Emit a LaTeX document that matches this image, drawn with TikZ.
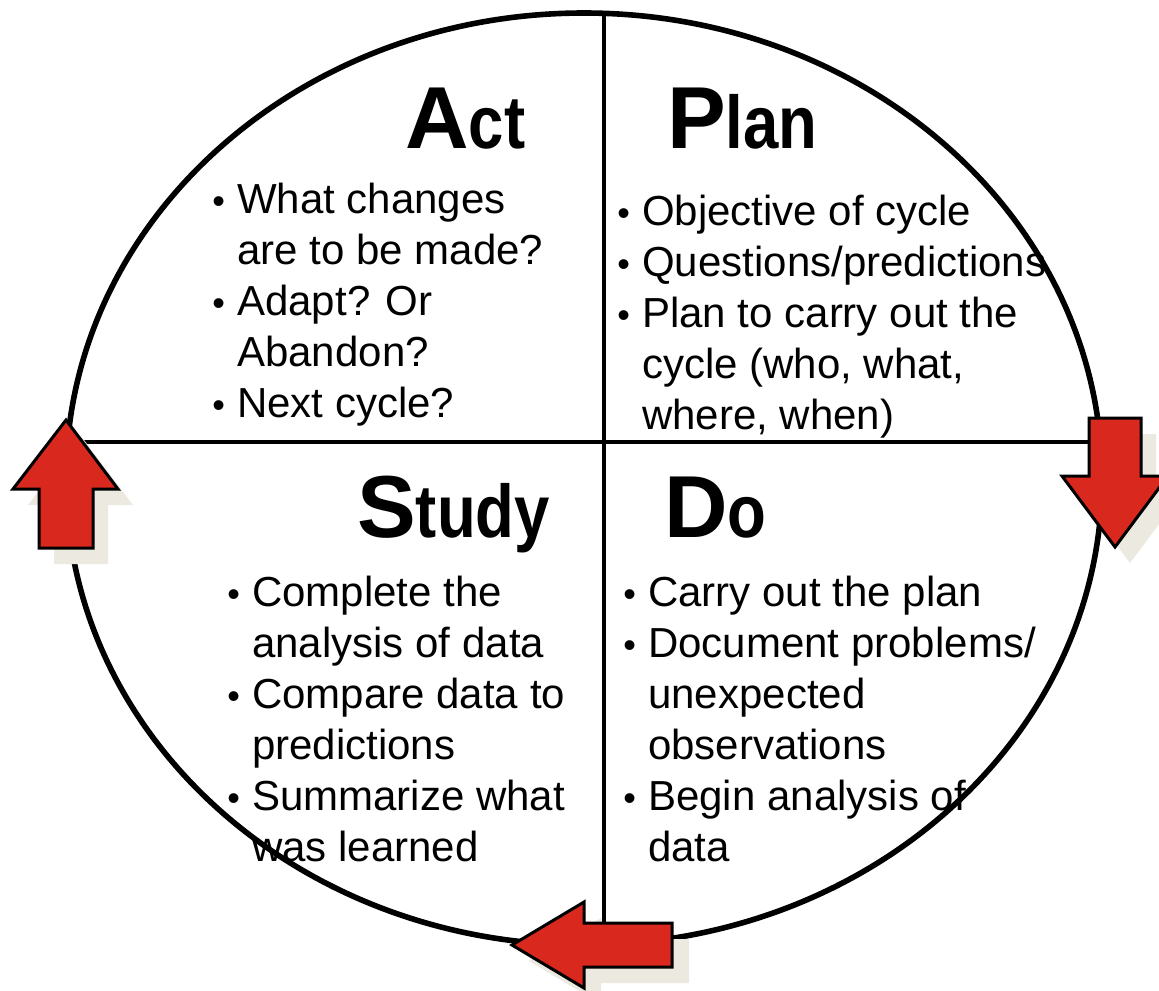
\documentclass[tikz,border=0pt]{standalone}
\usepackage{fontspec}
\setmainfont{Liberation Sans}
\usepackage{graphicx}
\usepackage{tikz}

\definecolor{pdsared}{RGB}{217,41,30}
\definecolor{pdsashade}{RGB}{236,234,224}

\newcommand{\itm}{\makebox[18.75pt][l]{\fontsize{27}{27}\selectfont\textbullet}}
\newcommand{\ind}{\hspace*{18.75pt}}
\newcommand{\bigttl}[2]{{\fontsize{66}{66}\selectfont\bfseries #1}\scalebox{0.85}[1]{\fontsize{56}{56}\selectfont\bfseries #2}}

\tikzset{
  ttl/.style={anchor=base west, inner sep=0pt},
  lst/.style={anchor=base west, inner sep=0pt, align=left, font=\fontsize{31.5}{38.25}\selectfont},
  blockarrow/.style={fill=pdsared, draw=black, line width=2.25pt, line join=miter},
  arrowshade/.style={fill=pdsashade}
}

\begin{document}
\begin{tikzpicture}[x=0.75pt,y=0.75pt,yscale=-1,xscale=1]
\useasboundingbox (0,0) rectangle (1159,990);

%Shape: Ellipse
\draw [line width=4.2pt] (584,479) ellipse [x radius=388.5pt, y radius=349.5pt];
%Straight Lines
\draw [line width=3pt] (604,13.4) -- (604,944.6);
%Straight Lines
\draw [line width=3pt] (67.6,442) -- (1100.4,442);

% Text Node
\node [ttl] (act) at (405,148) {\bigttl{A}{ct}};
% Text Node
\node [ttl] (plan) at (667,148) {\bigttl{P}{lan}};
% Text Node
\node [ttl] (study) at (357,537) {\bigttl{S}{tudy}};
% Text Node
\node [ttl] (do) at (664,537) {\bigttl{D}{o}};

% Text Node (anchor is the last line's baseline)
\node [lst] (actlist) at (212,417) {\itm What changes\\ \ind are to be made?\\ \itm Adapt? Or\\ \ind Abandon?\\ \itm Next cycle?};
% Text Node
\node [lst] (planlist) at (617,429) {\itm Objective of cycle\\ \itm Questions/predictions\\ \itm Plan to carry out the\\ \ind cycle (who, what,\\ \ind where, when)};
% Text Node
\node [lst] (studylist) at (227,861) {\itm Complete the\\ \ind analysis of data\\ \itm Compare data to\\ \ind predictions\\ \itm Summarize what\\ \ind was learned};
% Text Node
\node [lst] (dolist) at (623,861) {\itm Carry out the plan\\ \itm Document problems/\\ \ind unexpected\\ \ind observations\\ \itm Begin analysis of\\ \ind data};

%Shape: Up Arrow
\fill [arrowshade, shift={(15,16)}] (66,420) -- (118,489) -- (93,489) -- (93,548) -- (39,548) -- (39,489) -- (13,489) -- cycle ;
\draw [blockarrow] (66,420) -- (118,489) -- (93,489) -- (93,548) -- (39,548) -- (39,489) -- (13,489) -- cycle ;
%Shape: Down Arrow
\fill [arrowshade, shift={(15,16)}] (1089,418) -- (1141,418) -- (1141,476) -- (1168,476) -- (1115,547) -- (1062,476) -- (1089,476) -- cycle ;
\draw [blockarrow] (1089,418) -- (1141,418) -- (1141,476) -- (1168,476) -- (1115,547) -- (1062,476) -- (1089,476) -- cycle ;
%Shape: Left Arrow
\fill [arrowshade, shift={(17,16)}] (512,945) -- (584,902) -- (584,923) -- (672,923) -- (672,967) -- (584,967) -- (584,988) -- cycle ;
\draw [blockarrow] (512,945) -- (584,902) -- (584,923) -- (672,923) -- (672,967) -- (584,967) -- (584,988) -- cycle ;
\end{tikzpicture}
\end{document}
